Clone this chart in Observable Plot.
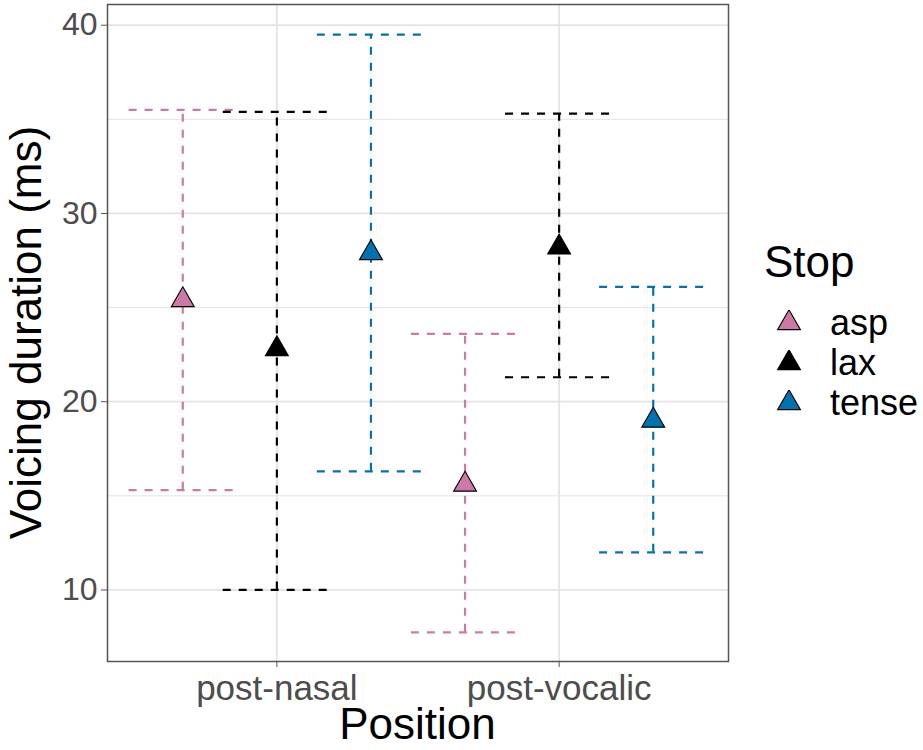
<!DOCTYPE html>
<html>
<head>
<meta charset="utf-8">
<script src="https://cdn.jsdelivr.net/npm/d3@7"></script>
<script src="https://cdn.jsdelivr.net/npm/@observablehq/plot@0.6"></script>
<style>
  body { margin: 0; background: #fff; font-family: "Liberation Sans", Arial, sans-serif; }
  #wrap { position: relative; width: 923px; height: 750px; }
  #legend { position: absolute; left: 0; top: 0; }
  .lg-title { position: absolute; left: 764px; top: 240px; font-size: 44px; line-height: 44px; color: #000; white-space: nowrap; }
  .lg-row { position: absolute; left: 776px; height: 40px; display: flex; align-items: center; white-space: nowrap; }
  .lg-row svg { width: 26px; height: 26px; margin-right: 28px; }
  .lg-row span { font-size: 36px; line-height: 40px; color: #000; }
</style>
</head>
<body>
<div id="wrap"></div>
<script>
// ---- data ----
const positions = ["post-nasal", "post-vocalic"];
const stops = ["asp", "lax", "tense"];
const stopColors = ["#CC79A7", "#000000", "#0072B2"];

// values per position (post-nasal, post-vocalic)
const aspMean = [25.4, 15.6];
const aspUpper = [35.5, 23.6];
const aspLower = [15.3, 7.75];

const laxMean = [22.8, 28.2];
const laxUpper = [35.4, 35.3];
const laxLower = [10.0, 21.3];

const tenseMean = [27.9, 19.0];
const tenseUpper = [39.5, 26.1];
const tenseLower = [16.3, 12.0];

const yTicks = [10, 20, 30, 40];
const yMinor = [15, 25, 35];
const yDomain = [6.2, 41.1];

const xTitle = "Position";
const yTitle = "Voicing duration (ms)";
const legendTitle = "Stop";

// ---- build table ----
const series = {
  asp: {mean: aspMean, hi: aspUpper, lo: aspLower},
  lax: {mean: laxMean, hi: laxUpper, lo: laxLower},
  tense: {mean: tenseMean, hi: tenseUpper, lo: tenseLower}
};
const dodge = 1 / 3;
const capHalf = 0.19;
const rows = [];
stops.forEach((s, j) => {
  positions.forEach((p, i) => {
    rows.push({
      stop: s,
      position: p,
      x: (i + 1) + (j - 1) * dodge,
      mean: series[s].mean[i],
      hi: series[s].hi[i],
      lo: series[s].lo[i]
    });
  });
});

const dash = "8,8";
const lw = 2.2;
const gridColor = "#e4e4e4";

const plot = Plot.plot({
  width: 923,
  height: 750,
  marginLeft: 107,
  marginRight: 195,
  marginTop: 4,
  marginBottom: 89,
  style: {fontFamily: "'Liberation Sans', Arial, sans-serif", background: "#fff", overflow: "visible"},
  x: {domain: [0.4, 2.6], label: null},
  y: {domain: yDomain, label: null},
  color: {domain: stops, range: stopColors},
  marks: [
    Plot.ruleY(yMinor, {stroke: gridColor, strokeWidth: 1}),
    Plot.ruleY(yTicks, {stroke: gridColor, strokeWidth: 1.8}),
    Plot.ruleX([1, 2], {stroke: gridColor, strokeWidth: 1.8}),
    Plot.ruleX(rows, {x: "x", y1: "lo", y2: "hi", stroke: "stop", strokeWidth: lw, strokeDasharray: dash}),
    Plot.ruleY(rows, {y: "hi", x1: d => d.x - capHalf, x2: d => d.x + capHalf, stroke: "stop", strokeWidth: lw, strokeDasharray: dash}),
    Plot.ruleY(rows, {y: "lo", x1: d => d.x - capHalf, x2: d => d.x + capHalf, stroke: "stop", strokeWidth: lw, strokeDasharray: dash}),
    Plot.dot(rows, {x: "x", y: "mean", symbol: "triangle", r: 8.5, fill: "stop", stroke: "#000", strokeWidth: 1.1}),
    Plot.frame({stroke: "#555", strokeWidth: 1.5}),
    Plot.axisY({ticks: yTicks, tickSize: 6, tickPadding: 4, fontSize: 32, color: "#4d4d4d", stroke: "#555", label: null}),
    Plot.axisX({ticks: [1, 2], tickFormat: v => positions[v - 1], tickSize: 6, tickPadding: 8, fontSize: 35, color: "#4d4d4d", stroke: "#555", label: null})
  ]
});

const wrap = document.getElementById("wrap");
wrap.appendChild(plot);

// ---- axis titles (placed in the plot's SVG, centred on the panel) ----
const svg = d3.select(plot);
const xs = plot.scale("x"), ys = plot.scale("y");
const panelCx = (xs.range[0] + xs.range[1]) / 2;
const panelCy = (ys.range[0] + ys.range[1]) / 2;
svg.append("text")
  .attr("transform", `translate(${panelCx},739)`)
  .attr("text-anchor", "middle")
  .attr("font-size", 44)
  .attr("fill", "#000")
  .text(xTitle);
svg.append("text")
  .attr("transform", `translate(41,${panelCy}) rotate(-90)`)
  .attr("text-anchor", "middle")
  .attr("font-size", 44)
  .attr("fill", "#000")
  .text(yTitle);

// ---- legend (right side) ----
const color = plot.scale("color");
const legend = document.createElement("div");
legend.id = "legend";
const title = document.createElement("div");
title.className = "lg-title";
title.textContent = legendTitle;
legend.appendChild(title);
const triPath = d3.symbol(d3.symbolTriangle, Math.PI * 8.5 * 8.5)();
stops.forEach((s, i) => {
  const row = document.createElement("div");
  row.className = "lg-row";
  row.style.top = (303 + i * 40) + "px";
  const sw = d3.create("svg").attr("viewBox", "-13 -13 26 26");
  sw.append("path").attr("d", triPath).attr("fill", color.apply(s)).attr("stroke", "#000").attr("stroke-width", 1.1);
  row.appendChild(sw.node());
  const label = document.createElement("span");
  label.textContent = s;
  row.appendChild(label);
  legend.appendChild(row);
});
wrap.appendChild(legend);
</script>
</body>
</html>
